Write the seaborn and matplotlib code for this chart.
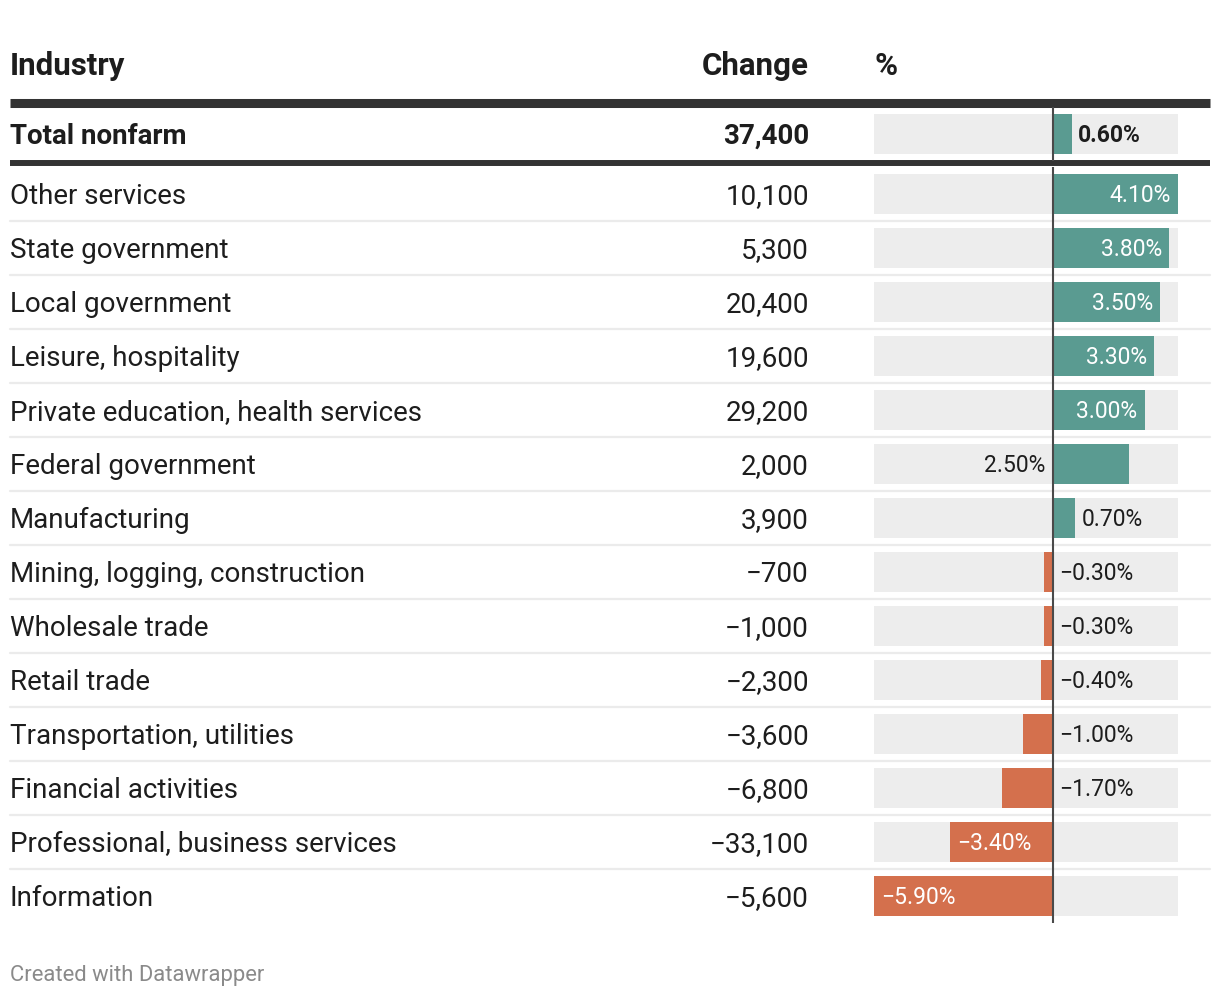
import numpy as np
import pandas as pd
import matplotlib
matplotlib.use("Agg")
import matplotlib.pyplot as plt
import seaborn as sns

industries = ["Other services", "State government", "Local government",
              "Leisure, hospitality", "Private education, health services",
              "Federal government", "Manufacturing", "Mining, logging, construction",
              "Wholesale trade", "Retail trade", "Transportation, utilities",
              "Financial activities", "Professional, business services", "Information"]
changes = [10100, 5300, 20400, 19600, 29200, 2000, 3900,
           -700, -1000, -2300, -3600, -6800, -33100, -5600]
pcts = [4.1, 3.8, 3.5, 3.3, 3.0, 2.5, 0.7,
        -0.3, -0.3, -0.4, -1.0, -1.7, -3.4, -5.9]
total_label = "Total nonfarm"
total_change = 37400
total_pct = 0.6
headers = ["Industry", "Change", "%"]
footer = "Created with Datawrapper"

TEAL = "#5a9b91"
ORANGE = "#d4704d"
BG = "#ededed"
DARK = "#1d1d1d"

sns.set_theme(style="white")
plt.rcParams["font.family"] = ["Roboto", "DejaVu Sans"]

W, H = 1220, 998
fig = plt.figure(figsize=(W / 100, H / 100), dpi=100)
fig.patch.set_facecolor("white")

# overlay axes in pixel coords for the table text and rules
ov = fig.add_axes([0, 0, 1, 1])
ov.set_xlim(0, W)
ov.set_ylim(H, 0)
ov.set_axis_off()

def fmt(n):
    return f"{n:,}".replace("-", "\u2212")

def fmt_pct(p):
    return f"{p:.2f}%".replace("-", "\u2212")

ROW_FS = 20
HEAD_FS = 22.5
PCT_FS = 16.5

# header
ov.text(10, 75, headers[0], fontsize=HEAD_FS, fontweight="bold", color=DARK, va="baseline")
ov.text(809, 75, headers[1], fontsize=HEAD_FS, fontweight="bold", color=DARK, va="baseline", ha="right")
ov.text(874, 75, headers[2], fontsize=HEAD_FS, fontweight="bold", color=DARK, va="baseline")

# thick rules
ov.plot([10, 1210], [102.5, 102.5], color="#333333", lw=6.5, solid_capstyle="butt")
ov.plot([10, 1210], [163, 163], color="#333333", lw=4.3, solid_capstyle="butt")

# total row
ov.text(10, 144, total_label, fontsize=ROW_FS, fontweight="bold", color=DARK, va="baseline")
ov.text(809, 144, fmt(total_change), fontsize=ROW_FS, fontweight="bold", color=DARK,
        va="baseline", ha="right")

row_y0, row_h = 194, 54
for i, (name, ch) in enumerate(zip(industries, changes)):
    yc = row_y0 + i * row_h
    ov.text(10, yc + 10, name, fontsize=ROW_FS, color=DARK, va="baseline")
    ov.text(809, yc + 10, fmt(ch), fontsize=ROW_FS, color=DARK, va="baseline", ha="right")
    if i < len(industries) - 1:
        ov.plot([10, 1210], [yc + 27, yc + 27], color="#ebebeb", lw=1.6)

ov.text(10, 981, footer, fontsize=15.8, color="#8a8a8a", va="baseline")

# bar axes
lo, hi = min(pcts), max(pcts)
bx0, bw = 874 / W, 304 / W
px_unit = (hi - lo) / 304.0

df = pd.DataFrame({"industry": industries, "pct": pcts})
df["sign"] = np.where(df["pct"] >= 0, "pos", "neg")
df["lo"] = lo
df["hi"] = hi
tot = pd.DataFrame({"industry": [total_label], "pct": [total_pct], "sign": ["pos"],
                    "lo": [lo], "hi": [hi]})

def draw_bars(ax, d):
    order = list(d["industry"])
    sns.barplot(data=d, x="lo", y="industry", order=order, color=BG, width=0.74,
                saturation=1, ax=ax, errorbar=None)
    sns.barplot(data=d, x="hi", y="industry", order=order, color=BG, width=0.74,
                saturation=1, ax=ax, errorbar=None)
    sns.barplot(data=d, x="pct", y="industry", order=order, hue="sign",
                palette={"pos": TEAL, "neg": ORANGE}, dodge=False, width=0.74,
                saturation=1, legend=False, ax=ax, errorbar=None)
    for p in ax.patches:
        p.set_linewidth(0)
    ax.set_xlim(lo, hi)
    ax.set_ylim(len(d) - 0.5, -0.5)
    ax.axvline(0, color="#4a4a4a", lw=1.5)
    ax.set_axis_off()

ax_tot = fig.add_axes([bx0, (H - 161) / H, bw, 54 / H])
draw_bars(ax_tot, tot)
ax_tot.text(total_pct + 6 * px_unit, 8 / 54, fmt_pct(total_pct), fontsize=PCT_FS,
            fontweight="bold", color=DARK, va="baseline", ha="left")

ax_rows = fig.add_axes([bx0, (H - 923) / H, bw, 756 / H])
draw_bars(ax_rows, df)
pad = 7 * px_unit
for i, v in enumerate(pcts):
    y = i + 8 / 54
    lab = fmt_pct(v)
    if v >= 3.0:
        ax_rows.text(v - pad, y, lab, fontsize=PCT_FS, color="white", va="baseline", ha="right")
    elif v >= 2.0:
        ax_rows.text(-8 * px_unit, y, lab, fontsize=PCT_FS, color=DARK, va="baseline", ha="right")
    elif v >= 0:
        ax_rows.text(v + pad, y, lab, fontsize=PCT_FS, color=DARK, va="baseline", ha="left")
    elif v <= -3.0:
        ax_rows.text(v + pad, y, lab, fontsize=PCT_FS, color="white", va="baseline", ha="left")
    else:
        ax_rows.text(6 * px_unit, y, lab, fontsize=PCT_FS, color=DARK, va="baseline", ha="left")

fig.savefig("out.png", dpi=100, facecolor="white")
